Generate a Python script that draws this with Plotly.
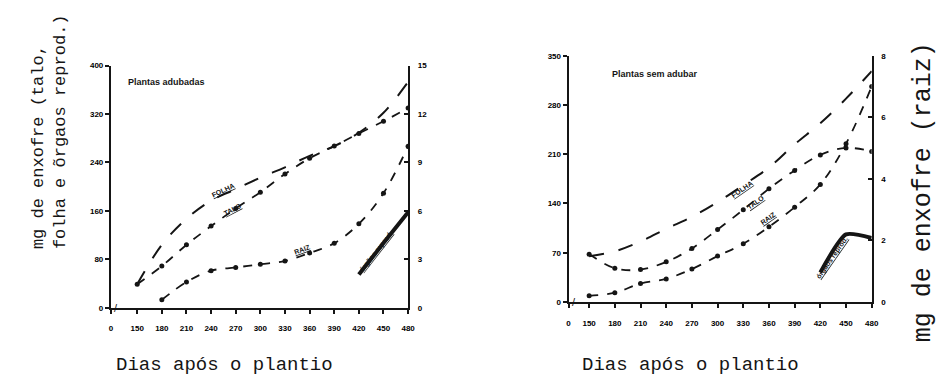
import plotly.graph_objects as go

# ---------------- data ----------------
days = [150, 180, 210, 240, 270, 300, 330, 360, 390, 420, 450, 480]
days_raiz_ad = [180, 210, 240, 270, 300, 330, 360, 390, 420, 450, 480]
days_orgaos = [420, 450, 480]

# Plantas adubadas (left panel)
folha_ad = [39, 104, 147, 177, 196, 215, 232, 251, 267, 289, 322, 373]
talo_ad = [39, 69, 104, 135, 164, 191, 221, 247, 267, 288, 308, 330]
raiz_ad = [0.5, 1.6, 2.3, 2.5, 2.7, 2.9, 3.4, 4.0, 5.2, 7.1, 10.0]
orgaos_ad = [55, 107, 158]

# Plantas sem adubar (right panel)
folha_sem = [65, 72, 86, 104, 121, 142, 166, 191, 224, 254, 289, 328]
talo_sem = [68, 48, 46, 57, 76, 103, 131, 161, 187, 209, 219, 214]
raiz_sem = [0.2, 0.3, 0.6, 0.75, 1.07, 1.49, 1.89, 2.44, 3.08, 3.82, 5.14, 7.0]
orgaos_sem = [42, 96, 91]

x_tickvals_left = [118] + days
x_tickvals_right = [126] + days
x_ticktext = ["0"] + [str(d) for d in days]
y_left_ad_ticks = [0, 80, 160, 240, 320, 400]
y_right_ad_ticks = [0, 3, 6, 9, 12, 15]
y_left_sem_ticks = [0, 70, 140, 210, 280, 350]
y_right_sem_ticks = [0, 2, 4, 6, 8]

INK = "#151515"
fig = go.Figure()


def add_panel(xa, ya_l, ya_r, folha, talo, raiz, raiz_days, orgaos):
    fig.add_trace(go.Scatter(x=days, y=folha, xaxis=xa, yaxis=ya_l, mode="lines",
                             line=dict(color=INK, width=2, dash="longdash", shape="spline"),
                             showlegend=False))
    fig.add_trace(go.Scatter(x=days, y=talo, xaxis=xa, yaxis=ya_l, mode="lines+markers",
                             line=dict(color=INK, width=1.8, dash="dash", shape="spline"),
                             marker=dict(size=5, color=INK), showlegend=False))
    fig.add_trace(go.Scatter(x=raiz_days, y=raiz, xaxis=xa, yaxis=ya_r, mode="lines+markers",
                             line=dict(color=INK, width=1.8, dash="dash", shape="spline"),
                             marker=dict(size=5, color=INK), showlegend=False))
    fig.add_trace(go.Scatter(x=days_orgaos, y=orgaos, xaxis=xa, yaxis=ya_l, mode="lines",
                             line=dict(color=INK, width=4, shape="spline", smoothing=0.6),
                             showlegend=False))


add_panel("x", "y", "y2", folha_ad, talo_ad, raiz_ad, days_raiz_ad, orgaos_ad)
add_panel("x2", "y3", "y4", folha_sem, talo_sem, raiz_sem, days, orgaos_sem)

tickfont = dict(family="Liberation Sans", size=8, color="black", weight="bold")
axcommon = dict(showgrid=False, zeroline=False, showline=True, linecolor=INK,
                linewidth=2, tickfont=tickfont, tickcolor=INK, tickwidth=2, ticklen=4,
                fixedrange=True)

fig.update_layout(
    width=948, height=392,
    margin=dict(l=0, r=0, t=0, b=0),
    paper_bgcolor="white", plot_bgcolor="white",
    xaxis=dict(domain=[0.116, 0.4325], range=[118, 480], anchor="y",
               tickvals=x_tickvals_left, ticktext=x_ticktext, ticks="outside",
               ticklabelstandoff=8, **axcommon),
    yaxis=dict(domain=[0.2066, 0.8393], range=[0, 400], anchor="x",
               tickvals=y_left_ad_ticks, ticks="outside", **axcommon),
    yaxis2=dict(overlaying="y", side="right", anchor="x", range=[0, 15],
                tickvals=y_right_ad_ticks, ticks="inside", ticklabelstandoff=6, **axcommon),
    xaxis2=dict(domain=[0.6034, 0.9262], range=[126, 480], anchor="y3",
                tickvals=x_tickvals_right, ticktext=x_ticktext, ticks="outside",
                ticklabelstandoff=8, **axcommon),
    yaxis3=dict(domain=[0.222, 0.865], range=[0, 350], anchor="x2",
                tickvals=y_left_sem_ticks, ticks="outside", **axcommon),
    yaxis4=dict(overlaying="y3", side="right", anchor="x2", range=[0, 8],
                tickvals=y_right_sem_ticks, ticks="inside", ticklabelstandoff=6, **axcommon),
)

mono = "Liberation Mono"
ann = []
# axis titles
ann.append(dict(text="mg de enxofre (talo,<br>folha e õrgaos reprod.)", xref="paper", yref="paper",
                x=0.050, y=0.668, xanchor="center", yanchor="middle",
                textangle=-90, align="left", showarrow=False,
                font=dict(family=mono, size=17, color=INK)))
ann.append(dict(text="mg de enxofre (raiz)", xref="paper", yref="paper",
                x=0.981, y=0.509, xanchor="center", yanchor="middle",
                textangle=-90, showarrow=False,
                font=dict(family=mono, size=25, color=INK)))
ann.append(dict(text="Dias após o plantio", xref="paper", yref="paper",
                x=0.237, y=0.058, xanchor="center", yanchor="middle",
                showarrow=False, font=dict(family=mono, size=19, color=INK)))
ann.append(dict(text="Dias após o plantio", xref="paper", yref="paper",
                x=0.733, y=0.058, xanchor="center", yanchor="middle",
                showarrow=False, font=dict(family=mono, size=19, color=INK)))

lab = dict(family="Liberation Sans", size=7, color=INK, weight="bold")
# panel notes
ann.append(dict(text="Plantas adubadas", xref="paper", yref="paper", x=0.132, y=0.796,
                xanchor="left", yanchor="middle", showarrow=False,
                font=dict(family="Liberation Sans", size=9, color=INK, weight="bold")))
ann.append(dict(text="Plantas sem adubar", xref="paper", yref="paper", x=0.647, y=0.816,
                xanchor="left", yanchor="middle", showarrow=False,
                font=dict(family="Liberation Sans", size=9, color=INK, weight="bold")))

# curve labels, left panel
ann.append(dict(text="<u>FOLHA</u>", xref="x", yref="y", x=254, y=194, textangle=-25, showarrow=False, font=lab))
ann.append(dict(text="<u>TALO</u>", xref="x", yref="y", x=266, y=163, textangle=-28, showarrow=False, font=lab))
ann.append(dict(text="<u>RAIZ</u>", xref="x", yref="y2", x=351, y=3.6, textangle=-20, showarrow=False, font=lab))
ann.append(dict(text="<u>órgãos reprod.</u>", xref="x", yref="y", x=441, y=92, textangle=-52, showarrow=False, font=lab))
# curve labels, right panel
ann.append(dict(text="<u>FOLHA</u>", xref="x2", yref="y3", x=328, y=160, textangle=-35, showarrow=False, font=lab))
ann.append(dict(text="<u>TALO</u>", xref="x2", yref="y3", x=344, y=142, textangle=-35, showarrow=False, font=lab))
ann.append(dict(text="<u>RAIZ</u>", xref="x2", yref="y4", x=359, y=2.7, textangle=-35, showarrow=False, font=lab))
ann.append(dict(text="<u>órgãos reprod.</u>", xref="x2", yref="y3", x=434, y=62, textangle=-55, showarrow=False, font=lab))

# axis break marks
ann.append(dict(text="/", xref="x", yref="paper", x=124, y=0.2066, yanchor="middle",
                showarrow=False, font=dict(family="Liberation Sans", size=11, color=INK)))
ann.append(dict(text="/", xref="x2", yref="paper", x=132, y=0.222, yanchor="middle",
                showarrow=False, font=dict(family="Liberation Sans", size=11, color=INK)))

fig.update_layout(annotations=ann)
fig.write_html("out.html", config={"displayModeBar": False},
               post_script="document.body.style.margin='0';")
